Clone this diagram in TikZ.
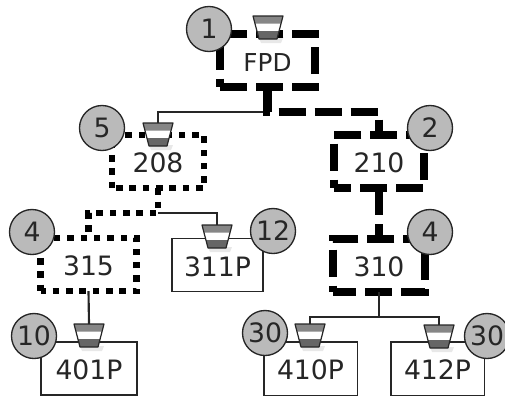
\documentclass[tikz,border=0pt]{standalone}
\usepackage{fontspec}
\setmainfont{DejaVu Sans}
\definecolor{badgegray}{HTML}{BABABA}
\definecolor{inkgray}{HTML}{262626}
\tikzset{
  unitbox/.style={draw=inkgray,line width=1pt,minimum width=69pt,minimum height=40pt,inner sep=0pt,outer sep=0pt,text height=16.8pt,text depth=0pt,font=\fontsize{20}{22}\selectfont,text=inkgray},
  heavybox/.style={unitbox,line width=1.6pt},
  dashbox/.style={unitbox,draw=black,line width=6.2pt,dash pattern=on 20.25pt off 6.75pt},
  dotbox/.style={unitbox,draw=black,line width=4.9pt,dash pattern=on 4.9pt off 5.1pt},
  dashlink/.style={black,line width=6.2pt,dash pattern=on 20.25pt off 6.75pt},
  dotlink/.style={black,line width=4.9pt,dash pattern=on 4.9pt off 5.1pt},
  thinlink/.style={inkgray,line width=1pt},
  badge/.style={circle,draw=inkgray,fill=badgegray,line width=1pt,minimum size=33.75pt,inner sep=0pt,outer sep=0pt,font=\fontsize{20}{22}\selectfont,text=inkgray},
  funnel/.pic={
    \fill[black!9] (-9,22) -- (15,22) -- (13,27) -- (-7,27) -- cycle;
    \fill[white] (-15,0) -- (15,0) -- (9,23) -- (-9,23) -- cycle;
    \fill[gray!95] (-15,0) -- (15,0) -- (13.1,7.5) -- (-13.1,7.5) -- cycle;
    \fill[black!60] (-11.1,15) -- (11.1,15) -- (9,23) -- (-9,23) -- cycle;
    \draw[inkgray,line width=0.9pt,line join=round] (-15,0) -- (15,0) -- (9,23) -- (-9,23) -- cycle;
    \coordinate (-top) at (0,0);
  }
}
\begin{document}
\begin{tikzpicture}[x=0.75pt,y=-0.75pt]
  \useasboundingbox (0,0) rectangle (505,396);
  \clip (0,0) rectangle (505,396);
  % boxes
  \node[dashbox,minimum width=71.25pt,dash phase=0pt,font=\fontsize{18.5}{20}\selectfont] (fpd) at (267.5,60.5) {FPD};
  \node[dotbox,dash phase=6.9pt] (b208) at (158,161.5) {208};
  \node[dashbox,minimum width=67.5pt,dash phase=7.5pt] (b210) at (379,161.5) {210};
  \node[dotbox,minimum width=72pt,dash phase=0.9pt] (b315) at (88.5,264.5) {315};
  \node[unitbox,minimum width=68.25pt] (b311) at (217.5,265) {311P};
  \node[dashbox,dash phase=3pt] (b310) at (379,265.5) {310};
  \node[heavybox,minimum width=72pt] (b401) at (89,368.5) {401P};
  \node[unitbox,minimum width=70pt] (b410) at (310.5,368.5) {410P};
  \node[unitbox,minimum width=70pt] (b412) at (437.5,368.5) {412P};
  % funnels
  \pic (f1) at (268,16) {funnel};
  \pic (f208) at (158,123) {funnel};
  \pic (f311) at (217,225) {funnel};
  \pic (f401) at (89,324) {funnel};
  \pic (f410) at (310,324) {funnel};
  \pic (f412) at (439,325) {funnel};
  % connectors
  \coordinate (j1) at (267.5,112);
  \coordinate (j2) at (158,213);
  \coordinate (j3) at (379,317);
  \draw[thinlink] (j1) -| (f208-top);
  \draw[dashlink] (fpd.south) -- (j1) -| (b210.north);
  \draw[dashlink] (b210.south) -- (b310.north);
  \draw[thinlink] (j2) -| (f311-top);
  \draw[dotlink] (b208.south) -- (j2) -| (b315.north);
  \draw[thinlink,line width=1.6pt] (b315.south) -- (f401-top);
  \draw[thinlink] (b310.south) -- (j3);
  \draw[thinlink] (f410-top) |- (j3) -| (f412-top);
  % badges
  \node[badge] (c1) at (209,29) {1};
  \node[badge] (c2) at (430,128) {2};
  \node[badge] (c5) at (102,128) {5};
  \node[badge] (c4a) at (32,232) {4};
  \node[badge] (c12) at (273,231) {12};
  \node[badge] (c4b) at (430,232) {4};
  \node[badge] (c10) at (34,336) {10};
  \node[badge] (c30a) at (265,333) {30};
  \node[badge] (c30b) at (487,336) {30};
\end{tikzpicture}
\end{document}
